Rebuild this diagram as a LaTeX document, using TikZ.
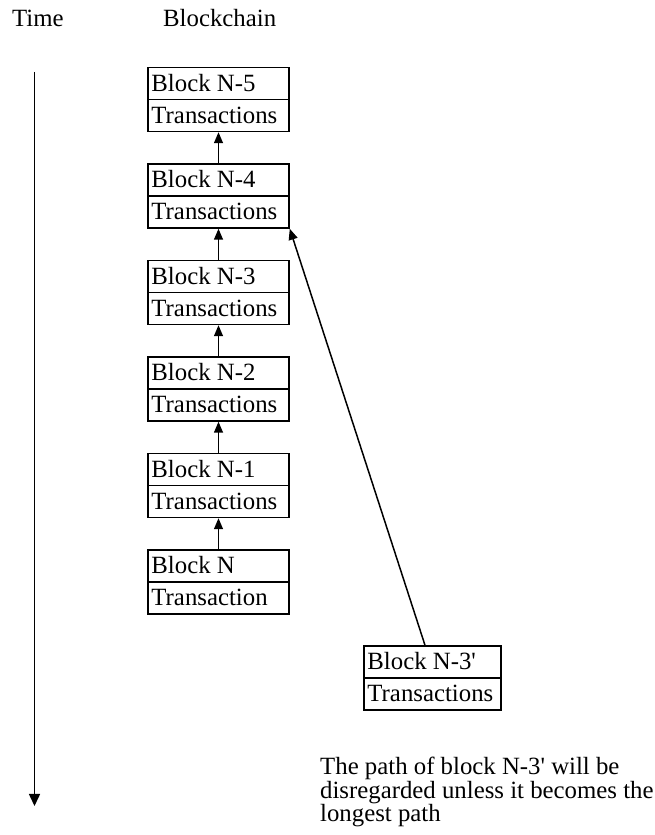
\documentclass[tikz,border=0pt]{standalone}
\usepackage{fontspec}
\setmainfont{Liberation Serif}[Ligatures=TeXOff]
\usetikzlibrary{arrows.meta,calc}
\tikzset{
  blk/.style={draw, line width=1.5pt, minimum width=141pt, minimum height=64pt, inner sep=0pt},
  txt/.style={inner sep=0pt, font=\fontsize{24.8}{23.5}\selectfont},
  link/.style={line width=1.5pt, -{Triangle[length=11pt,width=9pt]}},
}
\newcommand\chainblock[6]{%
  \node[blk, minimum width=#6] (#1) at (#2,#3) {};
  \draw[line width=1.3pt] (#1.west) -- (#1.east);
  \node[txt, anchor=base west] (#1t) at ($(#1.north west)+(4,-24.5)$) {#4};
  \node[txt, anchor=base west] (#1b) at ($(#1.north west)+(4,-56.5)$) {#5};
}
\begin{document}
\begin{tikzpicture}[x=1pt,y=1pt]
\useasboundingbox (0,0) rectangle (654,835);
\fill[white] (0,0) rectangle (654,835);
% headings
\node[txt, anchor=base west] (time) at (12,808) {Time};
\node[txt, anchor=base west] (chain) at (163,808) {Blockchain};
% time axis
\coordinate (ttop) at (34.5,763);
\coordinate (tbot) at (34.5,29);
\draw[line width=1.5pt, -{Triangle[length=12pt,width=11pt]}] (ttop) -- (tbot);
% chain
\chainblock{n5}{218.5}{735.5}{Block N-5}{Transactions}{141pt}
\chainblock{n4}{218.5}{639}{Block N-4}{Transactions}{141pt}
\chainblock{n3}{218.5}{542.5}{Block N-3}{Transactions}{141pt}
\chainblock{n2}{218.5}{446}{Block N-2}{Transactions}{141pt}
\chainblock{n1}{218.5}{349.5}{Block N-1}{Transactions}{141pt}
\chainblock{n0}{218.5}{253}{Block N}{Transaction}{141pt}
\chainblock{nf}{432.5}{157}{Block N-3'}{Transactions}{137pt}
\draw[link] (n4.north) -- (n5.south);
\draw[link] (n3.north) -- (n4.south);
\draw[link] (n2.north) -- (n3.south);
\draw[link] (n1.north) -- (n2.south);
\draw[link] (n0.north) -- (n1.south);
\coordinate (fstart) at ($(nf.north)+(-7.5,0)$);
\draw[link] (fstart) -- (n4.south east);
% caption
\node[txt, anchor=north west, align=left] (cap) at (320,78) {The path of block N-3' will be\\disregarded unless it becomes the\\longest path};
\end{tikzpicture}
\end{document}
